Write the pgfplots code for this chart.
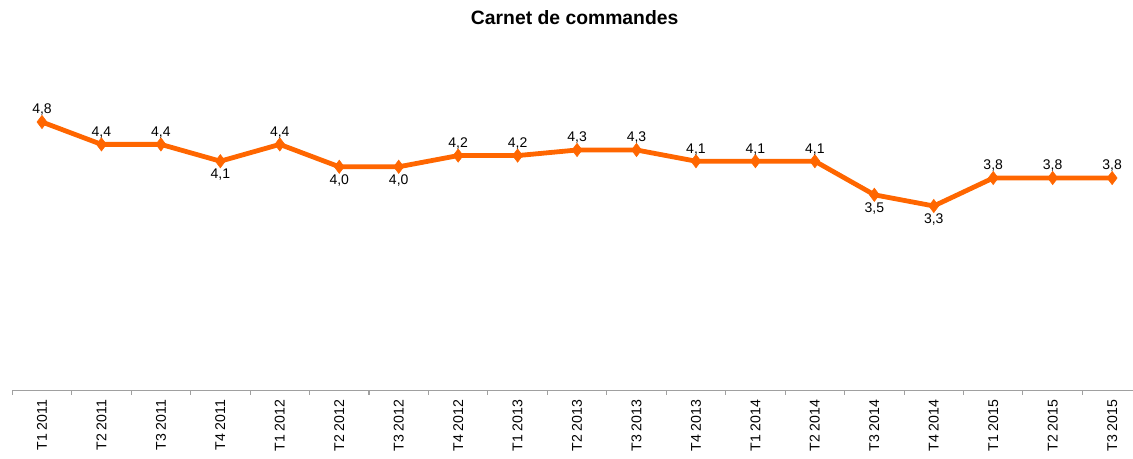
\documentclass[border=0pt]{standalone}
\usepackage{pgfplots}
\pgfplotsset{compat=1.18}
\usepackage{fontspec}
\setmainfont{Liberation Sans}
\definecolor{lineorange}{HTML}{FF6600}
\definecolor{axgray}{HTML}{A0A0A0}
\pgfplotstableread{
x y
0 4.8
1 4.4
2 4.4
3 4.1
4 4.4
5 4.0
6 4.0
7 4.2
8 4.2
9 4.3
10 4.3
11 4.1
12 4.1
13 4.1
14 3.5
15 3.3
16 3.8
17 3.8
18 3.8
}\datatable
\pgfplotstableread{
x y lab
0 4.8 {4,8}
1 4.4 {4,4}
2 4.4 {4,4}
4 4.4 {4,4}
7 4.2 {4,2}
8 4.2 {4,2}
9 4.3 {4,3}
10 4.3 {4,3}
11 4.1 {4,1}
12 4.1 {4,1}
13 4.1 {4,1}
16 3.8 {3,8}
17 3.8 {3,8}
18 3.8 {3,8}
}\abovetable
\pgfplotstableread{
x y lab
3 4.1 {4,1}
5 4.0 {4,0}
6 4.0 {4,0}
14 3.5 {3,5}
15 3.3 {3,3}
}\belowtable
\begin{document}
\begin{tikzpicture}
\begin{axis}[
  at={(9.2pt,51.15pt)}, anchor=south west,
  scale only axis, width=840.5pt, height=252pt,
  xmin=-0.5, xmax=18.35, ymin=0, ymax=6,
  axis x line=bottom, axis y line=none,
  axis line style={-, axgray, line width=0.8pt},
  xtick={0,...,18},
  xticklabels={T1 2011,T2 2011,T3 2011,T4 2011,T1 2012,T2 2012,T3 2012,T4 2012,T1 2013,T2 2013,T3 2013,T4 2013,T1 2014,T2 2014,T3 2014,T4 2014,T1 2015,T2 2015,T3 2015},
  major tick length=0pt,
  xticklabel style={rotate=90, anchor=east, inner sep=0pt, xshift=-6.5pt, font=\fontsize{10.6pt}{12pt}\selectfont},
  extra x ticks={-0.5,0.5,...,17.5},
  extra x tick labels={},
  extra x tick style={major tick length=3pt, tick align=outside, tick style={axgray, line width=0.8pt}},
  clip=false,
]
\addplot[lineorange, line width=3.6pt, mark=diamond*, mark size=5pt, mark options={solid, line width=0.4pt, fill=lineorange}] table[x=x,y=y] {\datatable};
\addplot[draw=none, nodes near coords, point meta=explicit symbolic,
  every node near coord/.style={anchor=south, yshift=4.5pt, inner sep=0pt, font=\fontsize{10.5pt}{12pt}\selectfont}]
  table[x=x,y=y,meta=lab] {\abovetable};
\addplot[draw=none, nodes near coords, point meta=explicit symbolic,
  every node near coord/.style={anchor=north, yshift=-5.5pt, inner sep=0pt, font=\fontsize{10.5pt}{12pt}\selectfont}]
  table[x=x,y=y,meta=lab] {\belowtable};
\end{axis}
\node[font=\bfseries\fontsize{14.5pt}{17pt}\selectfont] at (431pt,330.75pt) {Carnet de commandes};
\pgfresetboundingbox
\path[use as bounding box] (0,0) rectangle (849.75pt,344.25pt);
\end{tikzpicture}
\end{document}
